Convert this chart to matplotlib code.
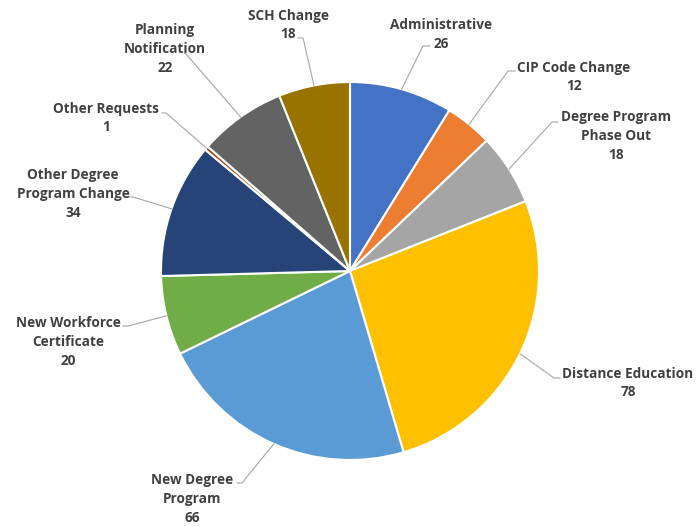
import matplotlib.pyplot as plt
import numpy as np

categories = ['Administrative', 'CIP Code Change', 'Degree Program\nPhase Out',
              'Distance Education', 'New Degree\nProgram', 'New Workforce\nCertificate',
              'Other Degree\nProgram Change', 'Other Requests', 'Planning\nNotification',
              'SCH Change']
values = [26, 12, 18, 78, 66, 20, 34, 1, 22, 18]
colors = ['#4472C4', '#ED7D31', '#A5A5A5', '#FFC000', '#5B9BD5', '#70AD47',
          '#264478', '#9E480E', '#636363', '#997300']

# layout in pixels (y measured from top): label centre, leader elbow, leader end
W, H = 696, 527
cx, cy, R = 350, 271, 189
label_xy = [(441, 34.5), (574, 77), (616, 136), (628, 383), (192, 499),
            (68, 342), (73, 194), (106, 118), (165, 49), (288, 25)]
elbow_xy = [(423, 46), (508, 71), (552, 122), (554, 378), (242, 483),
            (128, 326), (133, 197), (166, 113), (186, 54), (303, 38)]
end_xy = [(430, 46), (515, 71), (558, 122), (560, 378), (237, 483),
          (123, 326), (128, 197), (162, 113), (184, 53), (298, 38)]

plt.rcParams['font.family'] = ['Open Sans', 'DejaVu Sans']

fig = plt.figure(figsize=(W / 100, H / 100), dpi=100)
ax = fig.add_axes([0, 0, 1, 1])
ax.pie(values, colors=colors, startangle=90, counterclock=False,
       center=(cx, H - cy), radius=R,
       wedgeprops=dict(edgecolor='white', linewidth=1.5))
ax.set_xlim(0, W)
ax.set_ylim(0, H)
ax.set_aspect('equal')
ax.axis('off')

total = float(sum(values))
cum = np.cumsum([0] + values[:-1])
for i, (name, v) in enumerate(zip(categories, values)):
    ang = np.deg2rad((cum[i] + v / 2) / total * 360)
    sx, sy = cx + R * np.sin(ang), cy - R * np.cos(ang)
    xs = [sx, elbow_xy[i][0], end_xy[i][0]]
    ys = [H - sy, H - elbow_xy[i][1], H - end_xy[i][1]]
    ax.plot(xs, ys, color='#A6A6A6', lw=0.8, zorder=1)
    ax.text(label_xy[i][0], H - label_xy[i][1], '%s\n%d' % (name, v),
            ha='center', va='center', fontsize=9.8, fontweight='bold',
            color='#404040', linespacing=1.42)

fig.savefig('out.png', dpi=100)
